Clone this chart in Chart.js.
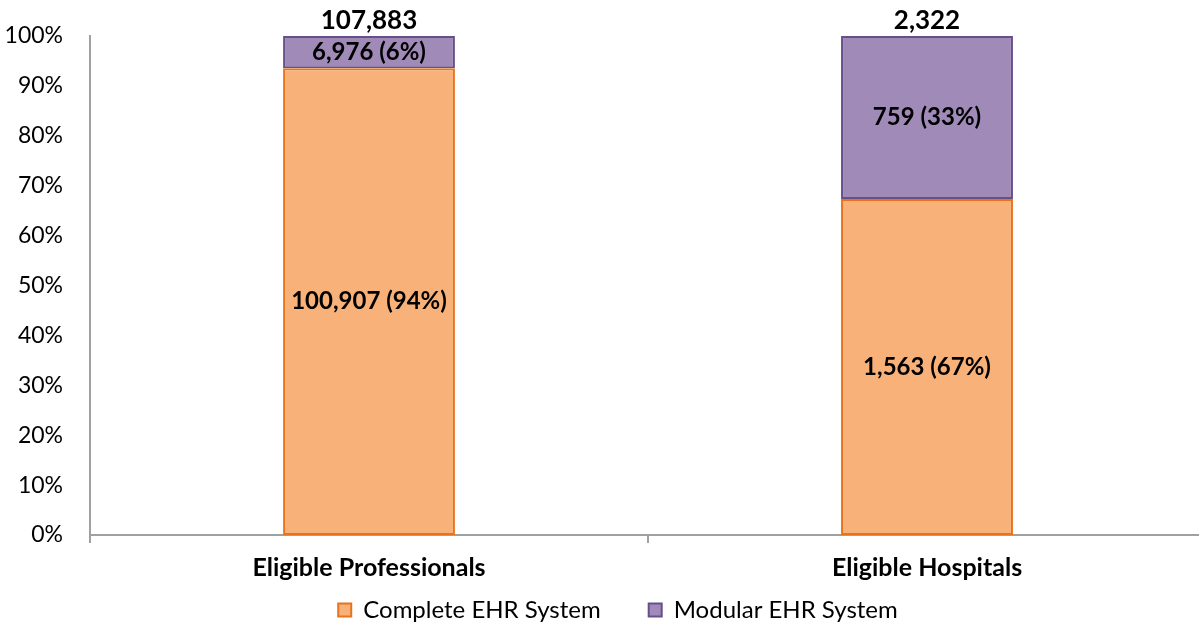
<!DOCTYPE html>
<html><head><meta charset="utf-8">
<script src="https://cdn.jsdelivr.net/npm/chart.js@4/dist/chart.umd.min.js"></script>
<style>html,body{margin:0;padding:0;background:#fff;overflow:hidden}#wrap{width:1199px;height:627px;overflow:hidden}</style>
</head><body><div id="wrap"><canvas id="c" width="1206" height="627"></canvas></div>
<script>
const categories = ["Eligible Professionals", "Eligible Hospitals"];
const seriesNames = ["Complete EHR System", "Modular EHR System"];
const completeCounts = [100907, 1563];
const modularCounts = [6976, 759];
const completePctLabels = ["94%", "67%"];
const modularPctLabels = ["6%", "33%"];
const totals = [107883, 2322];
const yTicks = [0,10,20,30,40,50,60,70,80,90,100];

const FONT = "Lato";
const completeShare = completeCounts.map((v,i)=>v/totals[i]*100);
const modularShare = modularCounts.map((v,i)=>v/totals[i]*100);
const fmt = n => n.toLocaleString('en-US');

const labelPlugin = {
  id: 'labels',
  afterLayout(chart) {
    const dx = 15, dy = 5;
    chart.legend.left += dx;
    chart.legend.right += dx;
    chart.legend.top += dy;
    chart.legend.bottom += dy;
  },
  afterDatasetsDraw(chart) {
    const ctx = chart.ctx;
    ctx.save();
    ctx.fillStyle = '#000';
    ctx.textAlign = 'center';
    ctx.textBaseline = 'middle';
    ctx.font = `bold 24px ${FONT}`;
    const counts = [completeCounts, modularCounts];
    const pcts = [completePctLabels, modularPctLabels];
    chart.data.datasets.forEach((ds, di) => {
      chart.getDatasetMeta(di).data.forEach((bar, i) => {
        const y = (bar.y + bar.base) / 2;
        ctx.fillText(`${fmt(counts[di][i])} (${pcts[di][i]})`, bar.x, y);
      });
    });
    const top = chart.getDatasetMeta(1).data;
    ctx.font = `bold 26px ${FONT}`;
    ctx.textBaseline = 'bottom';
    top.forEach((bar, i) => {
      ctx.fillText(fmt(totals[i]), bar.x, bar.y - 2);
    });
    ctx.restore();
  }
};

new Chart(document.getElementById('c'), {
  type: 'bar',
  data: {
    labels: categories,
    datasets: [
      { label: seriesNames[0], data: completeShare, backgroundColor: '#F8B178', borderColor: '#E8731C', borderWidth: 2, borderSkipped: false },
      { label: seriesNames[1], data: modularShare, backgroundColor: '#A08AB8', borderColor: '#665089', borderWidth: 2, borderSkipped: false }
    ]
  },
  options: {
    responsive: false,
    animation: false,
    devicePixelRatio: 1,
    layout: { padding: { top: 0, right: 0, left: 0, bottom: 0 } },
    datasets: { bar: { barPercentage: 0.308, categoryPercentage: 1.0 } },
    plugins: {
      legend: {
        position: 'bottom',
        labels: {
          font: { family: FONT, size: 24 }, color: '#000', boxWidth: 13, boxHeight: 13, padding: 0, useBorderRadius: false,
          generateLabels(chart) {
            const items = Chart.defaults.plugins.legend.labels.generateLabels(chart);
            items[0].text = items[0].text + '\u2002\u2002\u2002\u2002';
            return items;
          }
        }
      },
      tooltip: { enabled: false }
    },
    scales: {
      x: {
        stacked: true,
        grid: { display: true, drawOnChartArea: false, offset: true, color: '#A0A0A0', lineWidth: 2, tickLength: 8 },
        border: { display: true, color: '#A0A0A0', width: 2 },
        ticks: { font: { family: FONT, size: 25, weight: 'bold' }, color: '#000', padding: 10 }
      },
      y: {
        stacked: true,
        min: 0, max: 100,
        afterBuildTicks(axis) { axis.ticks = yTicks.map(v => ({ value: v })); },
        afterFit(axis) { axis.width = 90; },
        grid: { display: false, drawTicks: false },
        border: { display: true, color: '#A0A0A0', width: 2 },
        ticks: { font: { family: FONT, size: 23, lineHeight: 0.78 }, color: '#000', padding: 27, callback: v => v + '%' }
      }
    }
  },
  plugins: [labelPlugin]
});
</script>
</body></html>
